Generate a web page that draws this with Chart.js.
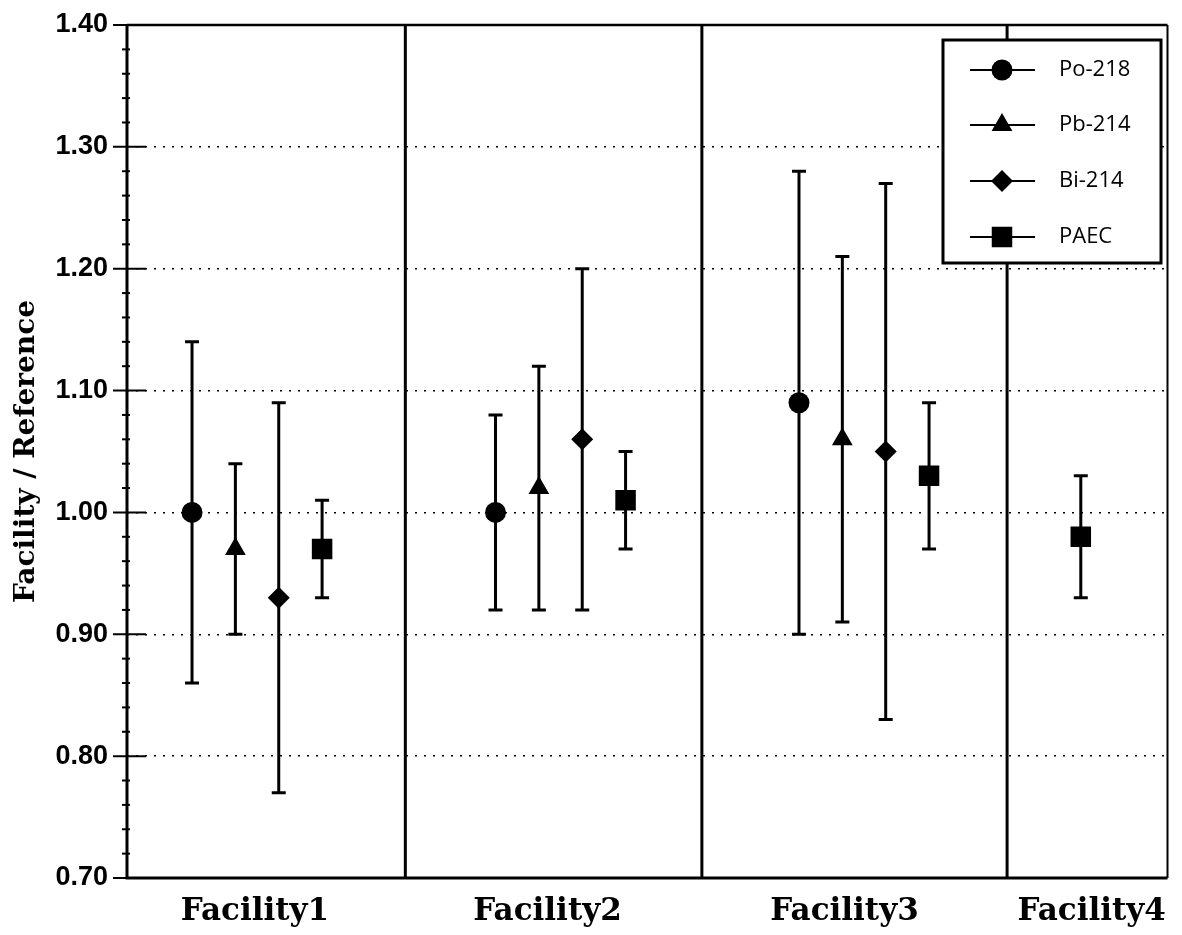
<!DOCTYPE html>
<html>
<head>
<meta charset="utf-8">
<script src="https://cdn.jsdelivr.net/npm/chart.js@4"></script>
<style>
  body { margin: 0; background: #fff; }
  #wrap { width: 1182px; height: 935px; }
</style>
</head>
<body>
<div id="wrap"><canvas id="ratioChart" width="1182" height="935"></canvas></div>
<script>
// categories and where they sit on the (hidden) x axis
const facilities = ['Facility1', 'Facility2', 'Facility3', 'Facility4'];
const facilityX = [2.95, 9.7, 16.55, 22.25];
const separatorX = [6.42, 13.26, 20.3];
const yTicks = [0.70, 0.80, 0.90, 1.00, 1.10, 1.20, 1.30, 1.40];

// series: x slot, value, low / high of the error bar
const poX = [1.5, 8.5, 15.5];
const poVal = [1.00, 1.00, 1.09];
const poLow = [0.86, 0.92, 0.90];
const poHigh = [1.14, 1.08, 1.28];

const pbX = [2.5, 9.5, 16.5];
const pbVal = [0.97, 1.02, 1.06];
const pbLow = [0.90, 0.92, 0.91];
const pbHigh = [1.04, 1.12, 1.21];

const biX = [3.5, 10.5, 17.5];
const biVal = [0.93, 1.06, 1.05];
const biLow = [0.77, 0.92, 0.83];
const biHigh = [1.09, 1.20, 1.27];

const paecX = [4.5, 11.5, 18.5, 22.0];
const paecVal = [0.97, 1.01, 1.03, 0.98];
const paecLow = [0.93, 0.97, 0.97, 0.93];
const paecHigh = [1.01, 1.05, 1.09, 1.03];

function buildPoints(xs, vals, lows, highs) {
    let pts = [];
    for (var i = 0; i < xs.length; i++) {
        pts.push({ x: xs[i], y: vals[i], lo: lows[i], hi: highs[i] });
    }
    return pts;
}

const series = [
    { label: 'Po-218', style: 'circle', radius: 10.5, data: buildPoints(poX, poVal, poLow, poHigh) },
    { label: 'Pb-214', style: 'triangle', radius: 12, data: buildPoints(pbX, pbVal, pbLow, pbHigh) },
    { label: 'Bi-214', style: 'rectRot', radius: 11, data: buildPoints(biX, biVal, biLow, biHigh) },
    { label: 'PAEC', style: 'rect', radius: 14.5, data: buildPoints(paecX, paecVal, paecLow, paecHigh) }
];

// error bars go under the markers
const errorBars = {
    id: 'errorBars',
    beforeDatasetsDraw(chart) {
        const ctx = chart.ctx;
        const xs = chart.scales.x, ys = chart.scales.y;
        ctx.save();
        ctx.strokeStyle = '#000';
        ctx.lineWidth = 3;
        chart.data.datasets.forEach(ds => {
            ds.data.forEach(p => {
                const x = xs.getPixelForValue(p.x);
                const yl = ys.getPixelForValue(p.lo);
                const yh = ys.getPixelForValue(p.hi);
                ctx.beginPath();
                ctx.moveTo(x, yl); ctx.lineTo(x, yh);
                ctx.moveTo(x - 7, yl); ctx.lineTo(x + 7, yl);
                ctx.moveTo(x - 7, yh); ctx.lineTo(x + 7, yh);
                ctx.stroke();
            });
        });
        ctx.restore();
    }
};

// frame, ticks, separators, category names and the boxed legend
const decor = {
    id: 'decor',
    afterDraw(chart) {
        const ctx = chart.ctx;
        const a = chart.chartArea;
        const xs = chart.scales.x, ys = chart.scales.y;
        ctx.save();
        ctx.strokeStyle = '#000';
        ctx.fillStyle = '#000';

        // separators between facilities
        ctx.lineWidth = 3;
        separatorX.forEach(v => {
            const x = xs.getPixelForValue(v);
            ctx.beginPath(); ctx.moveTo(x, a.top); ctx.lineTo(x, a.bottom); ctx.stroke();
        });

        // frame
        ctx.lineWidth = 3;
        ctx.beginPath(); ctx.moveTo(a.left, a.top); ctx.lineTo(a.left, a.bottom); ctx.lineTo(a.right, a.bottom); ctx.stroke();
        ctx.lineWidth = 2.5;
        ctx.beginPath(); ctx.moveTo(a.left, a.top); ctx.lineTo(a.right, a.top); ctx.stroke();
        ctx.lineWidth = 2;
        ctx.beginPath(); ctx.moveTo(a.right, a.top); ctx.lineTo(a.right, a.bottom); ctx.stroke();

        // y ticks: major across the axis, minor every 0.02
        ctx.lineWidth = 2;
        for (let k = 0; k <= 35; k++) {
            const v = 0.70 + k * 0.02;
            const y = ys.getPixelForValue(v);
            ctx.beginPath();
            if (k % 5 === 0) {
                ctx.moveTo(a.left - 14, y); ctx.lineTo(a.left + 19, y);
            } else {
                ctx.moveTo(a.left - 5, y); ctx.lineTo(a.left + 3, y);
            }
            ctx.stroke();
        }

        // facility names
        ctx.font = 'bold 31px "DejaVu Serif", serif';
        ctx.textAlign = 'center';
        ctx.textBaseline = 'alphabetic';
        for (var i = 0; i < facilities.length; i++) {
            ctx.fillText(facilities[i], xs.getPixelForValue(facilityX[i]), a.bottom + 42);
        }

        // legend box
        const bx = 943, by = 40, bw = 218, bh = 223;
        ctx.fillStyle = '#fff';
        ctx.fillRect(bx, by, bw, bh);
        ctx.lineWidth = 3;
        ctx.strokeRect(bx, by, bw, bh);
        const rows = [70, 125, 181, 237];
        ctx.font = '22px "Open Sans", "DejaVu Sans", sans-serif';
        ctx.textAlign = 'left';
        ctx.textBaseline = 'middle';
        series.forEach((s, j) => {
            const y = rows[j];
            ctx.strokeStyle = '#000';
            ctx.lineWidth = 2;
            ctx.beginPath(); ctx.moveTo(970, y); ctx.lineTo(1035, y); ctx.stroke();
            ctx.fillStyle = '#000';
            Chart.helpers.drawPoint(ctx, { pointStyle: s.style, radius: s.radius, rotation: 0, borderWidth: 0 }, 1002, y);
            ctx.fillText(s.label, 1059, y);
        });
        ctx.restore();
    }
};

const ratioChart = new Chart(document.getElementById('ratioChart'), {
    type: 'scatter',
    data: {
        datasets: series.map(s => ({
            label: s.label,
            data: s.data,
            pointStyle: s.style,
            pointRadius: s.radius,
            pointHoverRadius: s.radius,
            backgroundColor: '#000',
            borderColor: '#000',
            borderWidth: 0
        }))
    },
    options: {
        responsive: false,
        animation: false,
        layout: { padding: { left: 0, top: 25, right: 5, bottom: 57 } },
        plugins: {
            legend: { display: false },
            tooltip: { enabled: false }
        },
        scales: {
            x: { type: 'linear', min: 0, max: 24, display: false },
            y: {
                type: 'linear',
                min: 0.7,
                max: 1.4,
                afterBuildTicks: scale => { scale.ticks = yTicks.map(v => ({ value: v })); },
                ticks: {
                    callback: v => v.toFixed(2),
                    color: '#000',
                    padding: 19,
                    font: { family: '"Liberation Sans", Arial, sans-serif', weight: 'bold', size: 27 }
                },
                grid: { color: '#000', lineWidth: 1.5, drawTicks: false },
                border: { display: false, dash: [2, 7] },
                title: {
                    display: true,
                    text: 'Facility / Reference',
                    color: '#000',
                    padding: { top: 10, bottom: 0 },
                    font: { family: '"DejaVu Serif", serif', weight: 'bold', size: 28 }
                },
                afterFit: scale => {
                    scale.width = 127;
                    scale.paddingTop = 0;
                    scale.paddingBottom = 0;
                }
            }
        }
    },
    plugins: [errorBars, decor]
});
</script>
</body>
</html>
